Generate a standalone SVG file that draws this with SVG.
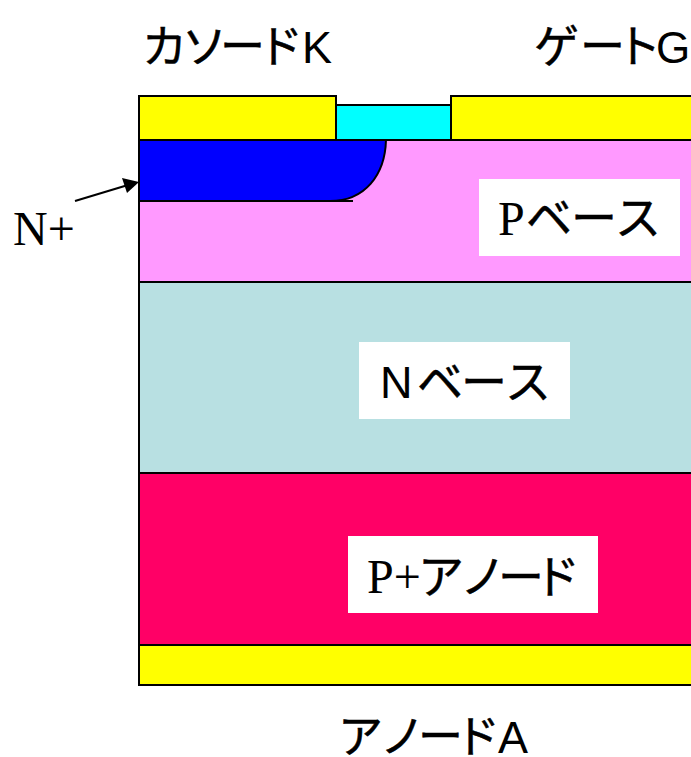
<svg xmlns="http://www.w3.org/2000/svg" width="691" height="757" viewBox="0 0 691 757">
<style>
.l{stroke:#000;stroke-width:2}
.s{font-family:"Liberation Sans",sans-serif;font-size:45px}
.r{font-family:"Liberation Serif",serif;font-size:48px}
.k{font-family:"Noto Sans CJK JP",sans-serif;font-size:46px;stroke:#000;stroke-width:.5}
.t{font-size:45px}
</style>
<rect width="691" height="757" fill="#fff"/>
<g id="p-anode"><rect class="l" x="139" y="473" width="553" height="172" fill="#ff0066"/><rect x="348" y="536" width="250" height="77" fill="#fff"/><text class="r" x="367" y="593">P+</text><text class="k" x="418 460 498 534" y="593">アノード</text></g>
<g id="n-base"><rect class="l" x="139" y="282" width="553" height="191" fill="#b8e0e2"/><rect x="359" y="342" width="211" height="77" fill="#fff"/><text class="s" x="380" y="398">N</text><text class="k" x="417 461 505" y="398">ベース</text></g>
<g id="p-base"><rect class="l" x="139" y="140" width="553" height="142" fill="#ff99ff"/><rect x="479" y="179" width="201" height="77" fill="#fff"/><text class="r" x="498" y="235">P</text><text class="k" x="526 571 615" y="234">ベース</text></g>
<g id="n-plus"><path class="l" d="M139 140H386C385 175 365 201 330 201H139Z" fill="#0000ff"/><line class="l" x1="330" y1="201" x2="353" y2="201"/></g>
<g id="cathode-metal"><rect class="l" x="139" y="96" width="197" height="44" fill="#ffff00"/></g>
<g id="gate-oxide"><rect class="l" x="336" y="105" width="115" height="35" fill="#00ffff"/></g>
<g id="gate-metal"><rect class="l" x="451" y="96" width="241" height="44" fill="#ffff00"/></g>
<g id="anode-metal"><rect class="l" x="139" y="645" width="553" height="40" fill="#ffff00"/></g>
<g id="labels"><text class="k t" x="142 182 220 258" y="63">カソード</text><text class="s" x="302" y="63">K</text><text class="k t" x="534 580 616" y="63">ゲート</text><text class="s" x="656" y="63" style="font-size:44px">G</text><text class="k t" x="338 380 418 455" y="753">アノード</text><text class="s" x="498" y="753">A</text><text class="r" x="13" y="245">N+</text></g>
<g id="connectors"><line class="l" x1="75" y1="201" x2="128" y2="185"/><path d="M139 182L122 178L127 193Z"/></g>
</svg>
